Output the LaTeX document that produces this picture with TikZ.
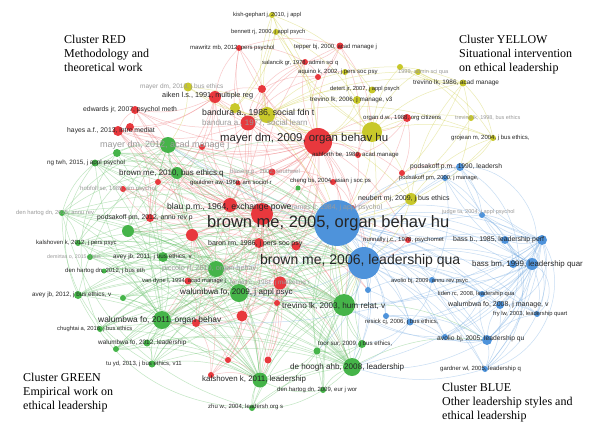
\documentclass[tikz,border=0pt]{standalone}
\usepackage{fontspec}
\setmainfont{Liberation Serif}
\newfontfamily\lsans{Liberation Sans}
\definecolor{cR}{HTML}{E8383D}
\definecolor{cG}{HTML}{45B449}
\definecolor{cB}{HTML}{4E93DB}
\definecolor{cY}{HTML}{C8C82A}
\definecolor{txt}{HTML}{262626}
\definecolor{fad}{HTML}{9A9A9A}
\pgfdeclarelayer{bg}
\pgfdeclarelayer{edges}
\pgfsetlayers{bg,edges,main}
\tikzset{
  vnode/.style={circle,inner sep=0pt,draw=none},
  lbl/.style={anchor=west,inner sep=0pt,text=txt,font=\lsans\fontsize{#1}{#1}\selectfont},
  faded/.style={text=fad},
  eR/.style={draw=cR!70,opacity=0.4,line width=0.5pt},
  eG/.style={draw=cG!80,opacity=0.42,line width=0.5pt},
  eB/.style={draw=cB!75,opacity=0.42,line width=0.5pt},
  eY/.style={draw=cY!85,opacity=0.42,line width=0.5pt},
  head/.style={anchor=north west,inner sep=0pt,align=left,text=black,font=\fontsize{12}{14}\selectfont}
}
\newcommand\netnode[5]{\node[vnode,minimum size=#4pt,fill=#5] (#1) at (#2,#3) {};}
\newcommand\netlab[6]{\node[lbl={#5},#6] (#1) at (#2,#3) {#4};}
\begin{document}
\begin{tikzpicture}[x=1pt,y=-1pt]
\begin{pgfonlayer}{bg}
\fill[white] (0,0) rectangle (593,425);
\end{pgfonlayer}
\useasboundingbox (0,0) rectangle (593,425);
% ---------- red nodes
\netnode{r1}{318}{142}{28}{cR}
\netnode{r2}{215}{97}{12}{cR}
\netnode{r3}{248}{123}{15}{cR}
\netnode{r4}{239}{48}{6}{cR}
\netnode{r5}{340}{46}{7}{cR}
\netnode{r6}{305}{62}{6}{cR}
\netnode{r7}{318}{77}{6}{cR}
\netnode{r8}{135}{110}{8}{cR}
\netnode{r9}{118}{131}{10}{cR}
\netnode{r10}{130}{127}{8}{cR}
\netnode{r11}{202}{147}{6}{cR}
\netnode{r12}{158}{182}{6}{cR}
\netnode{r13}{123}{189}{6}{cR}
\netnode{r14}{238}{183}{5}{cR}
\netnode{r15}{272}{172}{7}{cR}
\netnode{r16}{358}{155}{6}{cR}
\netnode{r17}{333}{182}{6}{cR}
\netnode{r18}{230}{205}{14}{cR}
\netnode{r19}{262}{214}{22}{cR}
\netnode{r20}{352}{208}{6}{cR}
\netnode{r21}{408}{240}{6}{cR}
\netnode{r22}{402}{173}{6}{cR}
\netnode{r23}{150}{218}{8}{cR}
\netnode{r24}{192}{235}{12}{cR}
\netnode{r25}{259}{243}{10}{cR}
\netnode{r26}{296}{246}{9}{cR}
\netnode{r27}{188}{281}{7}{cR}
\netnode{r28}{280}{283}{13}{cR}
\netnode{r29}{242}{316}{11}{cR}
\netnode{r30}{196}{323}{8}{cR}
\netnode{r31}{277}{303}{6}{cR}
\netnode{r32}{228}{360}{6}{cR}
\netnode{r33}{268}{360}{7}{cR}
\netnode{r34}{211}{375}{6}{cR}
\netnode{r35}{407}{118}{8}{cR}
\netnode{r36}{262}{89}{8}{cR}
% ---------- yellow nodes
\netnode{y1}{272}{15}{6}{cY}
\netnode{y2}{276}{32}{6}{cY}
\netnode{y3}{345}{72}{6}{cY}
\netnode{y4}{372}{90}{7}{cY}
\netnode{y5}{357}{100}{8}{cY}
\netnode{y6}{267}{115}{16}{cY}
\netnode{y7}{235}{108}{10}{cY}
\netnode{y8}{372}{132}{20}{cY}
\netnode{y9}{463}{83}{7}{cY}
\netnode{y10}{418}{72}{6}{cY}
\netnode{y11}{400}{67}{6}{cY}
\netnode{y12}{493}{138}{6}{cY}
\netnode{y13}{411}{199}{12}{cY}
\netnode{y14}{188}{87}{9}{cY}
\netnode{y15}{471}{118}{6}{cY}
% ---------- green nodes
\netnode{g1}{168}{145}{16}{cG}
\netnode{g2}{117}{153}{8}{cG}
\netnode{g3}{95}{163}{7}{cG}
\netnode{g4}{177}{173}{12}{cG}
\netnode{g5}{298}{188}{5}{cG}
\netnode{g6}{62}{213}{6}{cG}
\netnode{g7}{128}{231}{12}{cG}
\netnode{g8}{78}{243}{6}{cG}
\netnode{g9}{90}{257}{6}{cG}
\netnode{g10}{163}{257}{10}{cG}
\netnode{g11}{104}{271}{5}{cG}
\netnode{g12}{216}{269}{16}{cG}
\netnode{g13}{239}{293}{18}{cG}
\netnode{g14}{78}{295}{8}{cG}
\netnode{g15}{123}{298}{6}{cG}
\netnode{g16}{162}{320}{18}{cG}
\netnode{g17}{100}{329}{6}{cG}
\netnode{g18}{147}{343}{7}{cG}
\netnode{g19}{116}{349}{6}{cG}
\netnode{g20}{152}{364}{7}{cG}
\netnode{g21}{344}{305}{22}{cG}
\netnode{g22}{362}{344}{8}{cG}
\netnode{g23}{317}{351}{7}{cG}
\netnode{g24}{352}{367}{18}{cG}
\netnode{g25}{260}{380}{15}{cG}
\netnode{g26}{323}{390}{6}{cG}
\netnode{g27}{252}{408}{6}{cG}
% ---------- blue nodes
\netnode{b1}{337}{223}{46}{cB}
\netnode{b2}{364}{263}{32}{cB}
\netnode{b3}{460}{167}{8}{cB}
\netnode{b4}{445}{178}{6}{cB}
\netnode{b5}{482}{215}{6}{cB}
\netnode{b6}{505}{240}{8}{cB}
\netnode{b7}{542}{240}{10}{cB}
\netnode{b8}{513}{264}{8}{cB}
\netnode{b9}{532}{264}{12}{cB}
\netnode{b10}{432}{280}{6}{cB}
\netnode{b11}{482}{294}{6}{cB}
\netnode{b12}{500}{305}{8}{cB}
\netnode{b13}{537}{314}{6}{cB}
\netnode{b14}{410}{322}{7}{cB}
\netnode{b15}{445}{337}{6}{cB}
\netnode{b16}{487}{340}{10}{cB}
\netnode{b17}{485}{369}{6}{cB}
\netnode{b18}{368}{290}{6}{cB}
\netnode{b19}{386}{316}{6}{cB}
% ---------- edges
\begin{pgfonlayer}{edges}
\foreach \a/\b in {r1/r2,r1/r3,r1/r4,r1/r5,r1/r6,r1/r7,r1/r8,r1/r9,r1/r10,r1/r11,r1/r14,r1/r15,r1/r16,r1/r17,r1/r18,r1/r19,r1/r20,r1/r22,r1/r24,r1/r25,r1/r26,r1/r28,r1/r35,r1/r36,r1/r29,r1/r23,r1/r12,r1/r13,r1/r21,
r19/r2,r19/r3,r19/r8,r19/r9,r19/r12,r19/r13,r19/r14,r19/r15,r19/r18,r19/r23,r19/r24,r19/r25,r19/r26,r19/r27,r19/r28,r19/r29,r19/r30,r19/r31,r19/r32,r19/r33,r19/r34,r19/r11,r19/r17,r19/r20,r19/r21,r19/r4,r19/r6,r19/r36,r19/r10,
r18/r2,r18/r9,r18/r10,r18/r23,r18/r24,r18/r27,r18/r28,r18/r29,r18/r12,r18/r3,r18/r8,r18/r30,
r28/r25,r28/r26,r28/r29,r28/r30,r28/r31,r28/r32,r28/r33,r28/r34,r28/r24,r28/r27,
r3/r4,r3/r5,r3/r6,r3/r7,r3/r36,r3/r2,r3/r15,r3/r8,r3/r9,
r2/r8,r2/r9,r2/r10,r2/r36,r2/r4,r2/r11,r9/r8,r9/r24,r9/r23,r10/r23,
r29/r30,r29/r32,r29/r33,r29/r34,r29/r27,r29/r31,r24/r27,r24/r30,r24/r34,r25/r26,r25/r31,
r5/r7,r6/r7,r5/r16,r35/r16,r35/r22,r17/r20,r22/r20,
r24/r25,r24/r23,r23/r12,r23/r13,r12/r13,r14/r15,r14/r18,r11/r18,r11/r12,r15/r17,r15/r16,r26/r20,r26/r31,r25/r27,r25/r30,r27/r30,r30/r32,r30/r34,r31/r33,r36/r6,r36/r7,r4/r5,r4/r6,r5/r6,r8/r10,r13/r24,r18/r25,r18/r26,r18/r14,r18/r11,r3/r18,r3/r11,r2/r12,r2/r23,r36/r18,
r1/b1,r19/b1,r18/b1,r25/b1,r26/b2,r28/b2,r24/b1,r3/b1,r2/b1,r21/b1,r20/b1,r22/b3,r35/b1,r16/b1,r17/b1,r15/b1,
r1/g1,r18/g4,r24/g13,r28/g21,r29/g16,r19/g12,r19/g21,r1/g21,r9/g1,r8/g1,r1/y8,r1/y6,r3/y6,r4/y6,r5/y8,r36/y6,
r23/g7,r27/g12,r30/g16,r33/g25,r32/g25,r34/g25,r31/g21,r28/g24,r19/b2,r1/b2,r35/y8,r7/y3,r16/y8,
r24/g10,r24/g12,r23/g4,r27/g16,r25/g13,r26/g21,r19/g13,r19/g16,r19/g10,r18/g7,r18/g1,r1/g4,r1/g12,r19/g25,r29/g25,r28/g13,r24/g16,r19/b18,r26/b18,r31/b2,r21/b2,r20/b2}
  \draw[eR] (\a) to[bend left=16] (\b);
\foreach \a/\b in {g1/b1,g2/b1,g3/b1,g4/b1,g5/b1,g6/b1,g7/b1,g8/b1,g9/b1,g10/b1,g11/b1,g12/b1,g13/b1,g14/b1,g15/b1,g16/b1,g17/b1,g18/b1,g19/b1,g20/b1,g21/b1,g22/b1,g23/b1,g24/b1,g25/b1,g26/b1,g27/b1,
g3/b2,g6/b2,g7/b2,g8/b2,g10/b2,g12/b2,g13/b2,g14/b2,g16/b2,g18/b2,g20/b2,g21/b2,g22/b2,g23/b2,g24/b2,g25/b2,g26/b2,g27/b2,g17/b2,g11/b2,
g1/g21,g4/g21,g7/g21,g10/g21,g12/g21,g13/g21,g16/g21,g18/g21,g20/g21,g22/g21,g23/g21,g24/g21,g25/g21,g26/g21,g27/g21,g14/g21,g3/g21,g6/g21,g8/g21,g9/g21,g19/g21,
g12/g24,g13/g24,g16/g24,g20/g24,g22/g24,g23/g24,g25/g24,g26/g24,g27/g24,g18/g24,g10/g24,g7/g24,
g12/g25,g13/g25,g16/g25,g18/g25,g20/g25,g23/g25,g26/g25,g27/g25,g14/g25,g15/g25,g19/g25,g17/g25,
g3/g16,g6/g16,g7/g16,g8/g16,g9/g16,g10/g16,g11/g16,g14/g16,g15/g16,g17/g16,g18/g16,g19/g16,g20/g16,g12/g16,g13/g16,
g2/g1,g3/g1,g4/g1,g6/g1,g7/g1,g8/g1,g10/g1,g12/g1,g13/g1,g16/g1,g14/g1,
g3/g4,g6/g4,g7/g4,g10/g4,g12/g4,g13/g4,g8/g4,g2/g4,
g7/g13,g10/g13,g12/g13,g14/g13,g15/g13,g17/g13,g18/g13,g20/g13,g9/g13,
g7/g12,g10/g12,g8/g12,g6/g12,g21/b16,g24/b16,g13/r19,g12/r18,g4/r1,
g2/g16,g3/g13,g6/g13,g8/g13,g11/g13,g14/g12,g9/g12,g11/g12,g15/g12,g17/g12,g19/g13,g20/g12,g2/g21,g11/g21,g15/g21,g17/g21,g5/g21,g2/g24,g3/g24,g6/g24,g8/g24,g14/g24,g17/g24,g19/g24,g9/g24,g6/g25,g8/g25,g9/g25,g10/g25,g3/g25,g22/g25,g1/g24,g4/g24,g1/g25,g4/g25,g7/g25,g21/g27,g22/g26,g22/g23,g26/g27,g23/g26,g18/g19,g18/g20,g17/g19,g14/g15,g6/g8,g8/g9,g6/g3,g2/g3,g10/g7,g1/b2,g4/b2,g2/b2,g9/b2,g15/b2,g19/b2}
  \draw[eG] (\a) to[bend left=16] (\b);
\foreach \a/\b in {g6/g27,g3/g25,g14/g27,g6/g20,g3/g14,g2/g17}
  \draw[eG] (\a) to[bend right=30] (\b);
\foreach \a/\b in {b1/b3,b1/b4,b1/b5,b1/b6,b1/b7,b1/b8,b1/b9,b1/b10,b1/b11,b1/b12,b1/b13,b1/b14,b1/b15,b1/b16,b1/b17,b1/b18,b1/b19,
b2/b3,b2/b4,b2/b5,b2/b6,b2/b7,b2/b8,b2/b9,b2/b10,b2/b11,b2/b12,b2/b13,b2/b14,b2/b15,b2/b16,b2/b17,b2/b18,b2/b19,b1/b2,
b7/b3,b7/b4,b7/b5,b7/b6,b7/b8,b7/b10,b7/b11,b7/b12,b7/b13,b7/b14,b7/b15,b7/b16,b7/b17,
b9/b3,b9/b4,b9/b5,b9/b6,b9/b8,b9/b10,b9/b11,b9/b12,b9/b13,b9/b14,b9/b15,b9/b16,b9/b17,b9/b7,
b16/b11,b16/b12,b16/b13,b16/b14,b16/b15,b16/b17,b16/b10,b12/b11,b12/b13,b12/b17,b6/b8,b3/b4,
b18/b14,b19/b14,b18/b10,b10/b14,b3/b5,b4/b5,b5/b6,b6/b7,b8/b9,b10/b11,b11/b15,b13/b17,b4/b10,b19/b16,b19/b15,
b1/g21,b2/g21,b2/g24,b1/g24,b7/g21,b9/g24,b16/g21,b14/g22,b9/g1,b7/g1,b9/g13,b7/g16,
b2/g22,b2/g23,b1/g13,b1/g12,b2/g13,b16/g24,b14/g24,b17/g24,b15/g21}
  \draw[eB] (\a) to[bend left=16] (\b);
\foreach \a/\b in {b7/b17,b9/b13,b6/b16,b3/b9,b5/b17,b7/b12,b3/b16,b5/b13}
  \draw[eB] (\a) to[bend left=55] (\b);
\foreach \a/\b in {y8/y1,y8/y2,y8/y3,y8/y4,y8/y5,y8/y6,y8/y7,y8/y9,y8/y10,y8/y11,y8/y12,y8/y13,y8/y14,y8/y15,
y6/y1,y6/y2,y6/y3,y6/y4,y6/y5,y6/y7,y6/y9,y6/y10,y6/y12,y6/y13,y6/y14,
y1/y2,y1/y7,y2/y7,y9/y10,y9/y11,y9/y12,y10/y12,y11/y15,y13/y12,y13/y9,
y8/b1,y6/b1,y13/b1,y13/b2,y9/b1,y12/b1,y1/r1,y2/r1,y4/r1,y5/r1,y14/r1,y14/g1,y8/g21,y6/g21,y9/b3,y12/b3,y15/b1,y1/y4,y2/y5,y3/y9}
  \draw[eY] (\a) to[bend left=16] (\b);
\end{pgfonlayer}
% ---------- labels
\netlab{l1}{207}{223}{brown me, 2005, organ behav hu}{16.5}{}
\netlab{l2}{260}{261}{brown me, 2006, leadership qua}{14}{}
\netlab{l3}{220}{139}{mayer dm, 2009, organ behav hu}{11.4}{}
\netlab{l4}{202}{113}{bandura a., 1986, social fdn t}{8.7}{}
\netlab{l5}{162}{96}{aiken l.s., 1991, multiple reg}{7.3}{}
\netlab{l6}{282}{306}{trevino lk, 2003, hum relat, v}{8.2}{}
\netlab{l7}{290}{367}{de hoogh ahb, 2008, leadership}{8.1}{}
\netlab{l8}{202}{379}{kalshoven k, 2011, leadership}{7.9}{}
\netlab{l9}{180}{292}{walumbwa fo, 2009, j appl psyc}{8.1}{}
\netlab{l10}{98}{320}{walumbwa fo, 2011, organ behav}{8.4}{}
\netlab{l11}{162}{269}{piccolo rf, 2010, organ behav}{7.3}{faded}
\netlab{l12}{119}{173}{brown me, 2010, bus ethics q}{8}{}
\netlab{l13}{100}{145}{mayer dm, 2012, acad manage j}{9}{faded}
\netlab{l14}{167}{207}{blau p.m., 1964, exchange powe}{8.6}{}
\netlab{l15}{472}{264}{bass bm, 1999, leadership quar}{7.9}{}
\netlab{l16}{453}{240}{bass b., 1985, leadership perf}{6.9}{}
\netlab{l17}{410}{167}{podsakoff p.m., 1990, leadersh}{6.7}{}
\netlab{l18}{83}{110}{edwards jr, 2007, psychol meth}{6.8}{}
\netlab{l19}{67}{131}{hayes a.f., 2013, intro mediat}{6.8}{}
\netlab{l20}{437}{339}{avolio bj, 2005, leadership qu}{6.7}{}
\netlab{l21}{448}{305}{walumbwa fo, 2008, j manage, v}{7}{}
\netlab{l22}{298}{72}{aquino k, 2002, j pers soc psy}{6}{}
\netlab{l23}{190}{48}{mawritz mb, 2012, pers psychol}{6}{}
\netlab{l24}{294}{47}{tepper bj, 2000, acad manage j}{6}{}
\netlab{l25}{262}{63}{salancik gr, 1978, admin sci q}{5.8}{}
\netlab{l26}{233}{15}{kish-gephart j, 2010, j appl}{5.8}{}
\netlab{l27}{231}{32}{bennett rj, 2000, j appl psych}{5.8}{}
\netlab{l28}{330}{89}{detert jr, 2007, j appl psych}{5.8}{}
\netlab{l29}{310}{100}{trevino lk, 2006, j manage, v3}{6.3}{}
\netlab{l30}{363}{118}{organ d.w., 1988, org citizens}{6}{}
\netlab{l31}{455}{118}{trevino lk, 1998, bus ethics}{5.5}{faded}
\netlab{l32}{413}{83}{trevino lk, 1986, acad manage}{6.4}{}
\netlab{l33}{398}{72}{1999, admin sci qua}{5.6}{faded}
\netlab{l34}{451}{138}{grojean m, 2004, j bus ethics,}{6}{}
\netlab{l35}{312}{155}{ashforth be, 1989, acad manage}{6}{}
\netlab{l36}{290}{181}{cheng bs, 2004, asian j soc ps}{6}{}
\netlab{l37}{190}{183}{gouldner aw, 1960, am sociol r}{6}{}
\netlab{l38}{230}{172}{blase p.p., 2002, southwel}{6}{faded}
\netlab{l39}{292}{208}{james lr, 1984, j appl psychol}{7}{faded}
\netlab{l40}{358}{199}{neubert mj, 2009, j bus ethics}{7}{}
\netlab{l41}{363}{240}{nunnally j.c., 1978, psychomet}{6}{}
\netlab{l42}{399}{178}{podsakoff pm, 2000, j manage,}{5.8}{}
\netlab{l43}{442}{212}{judge ta, 2004, j appl psychol}{5.6}{faded}
\netlab{l44}{391}{281}{avolio bj, 2009, annu rev psyc}{5.8}{}
\netlab{l45}{438}{294}{liden rc, 2008, leadership qua}{5.8}{}
\netlab{l46}{493}{314}{fry lw, 2003, leadership quart}{5.8}{}
\netlab{l47}{365}{322}{resick cj, 2006, j bus ethics,}{6}{}
\netlab{l48}{318}{344}{toor sur, 2009, j bus ethics,}{6.2}{}
\netlab{l49}{440}{369}{gardner wl, 2005, leadership q}{6}{}
\netlab{l50}{277}{390}{den hartog dn, 2009, eur j wor}{6}{}
\netlab{l51}{208}{407}{zhu w., 2004, leadersh org s}{6}{}
\netlab{l52}{106}{364}{tu yd, 2013, j bus ethics, v11}{6}{}
\netlab{l53}{98}{343}{walumbwa fo, 2012, leadership}{6.4}{}
\netlab{l54}{57}{329}{chughtai a, 2016, j bus ethics}{5.8}{}
\netlab{l55}{32}{295}{avey jb, 2012, j bus ethics, v}{6.3}{}
\netlab{l56}{113}{257}{avey jb, 2011, j bus ethics, v}{6.3}{}
\netlab{l57}{47}{257}{demirtas o, 2015, j bus}{5.3}{faded}
\netlab{l58}{65}{271}{den hartog dn, 2012, j bus eth}{6}{}
\netlab{l59}{36}{243}{kalshoven k, 2012, j pers psyc}{6}{}
\netlab{l60}{16}{213}{den hartog dn, 2015, annu rev}{5.8}{faded}
\netlab{l61}{97}{218}{podsakoff pm, 2012, annu rev p}{6.8}{}
\netlab{l62}{47}{163}{ng twh, 2015, j appl psychol}{6.3}{}
\netlab{l63}{208}{244}{baron rm, 1986, j pers soc psy}{7}{}
\netlab{l64}{142}{281}{van dyne l, 1994, acad manage j}{5.8}{}
\netlab{l65}{230}{283}{fornell c., 1981, j marketing r}{6.3}{faded}
\netlab{l66}{140}{87}{mayer dm, 2010, j bus ethics}{6.5}{faded}
\netlab{l67}{80}{189}{hobfoll se, 1989, am psychol}{6}{faded}
\netlab{l68}{202}{123}{bandura a., 1977, social learn}{8}{faded}
% ---------- cluster headings
\node[head] (hR) at (64,35) {Cluster RED\\Methodology and\\theoretical work};
\node[head] (hY) at (459,35) {Cluster YELLOW\\Situational intervention\\on ethical leadership};
\node[head] (hG) at (23,373) {Cluster GREEN\\Empirical work on\\ethical leadership};
\node[head] (hB) at (442,383) {Cluster BLUE\\Other leadership styles and\\ethical leadership};
\end{tikzpicture}
\end{document}
